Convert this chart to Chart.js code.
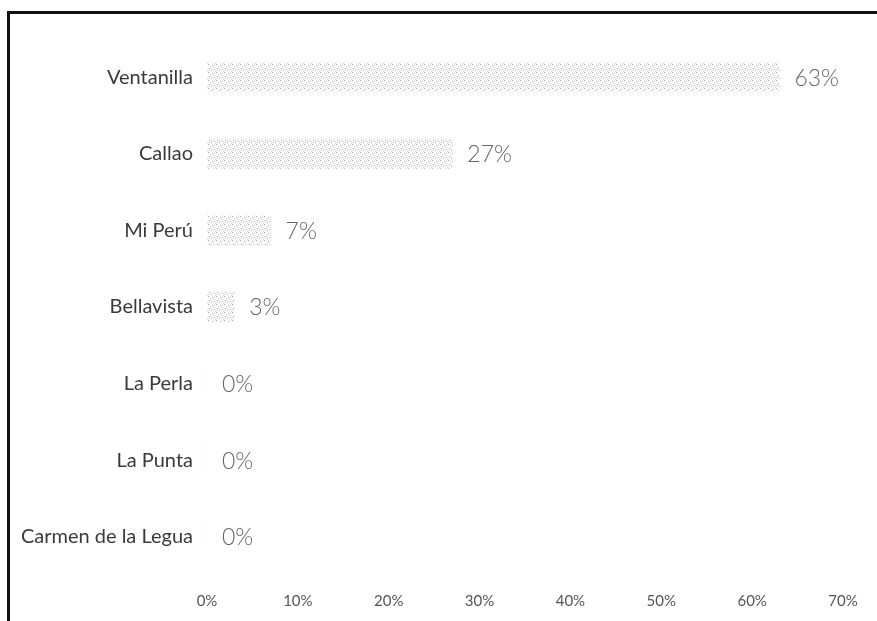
<!DOCTYPE html>
<html>
<head>
<meta charset="utf-8">
<script src="https://cdn.jsdelivr.net/npm/chart.js@4/dist/chart.umd.min.js"></script>
<style>
  html, body { margin: 0; padding: 0; background: #fff; }
  #wrap { position: relative; width: 877px; height: 621px; overflow: hidden; }
  #frameTop { position: absolute; left: 7px; top: 11px; width: 870px; height: 3px; background: #111; }
  #frameLeft { position: absolute; left: 7px; top: 11px; width: 3px; height: 610px; background: #111; }
  canvas { position: absolute; left: 0; top: 0; }
</style>
</head>
<body>
<div id="wrap">
  <canvas id="chart" width="877" height="621"></canvas>
  <div id="frameTop"></div>
  <div id="frameLeft"></div>
</div>
<script>
// Districts and their share of cases (percent)
const districts = ['Ventanilla', 'Callao', 'Mi Perú', 'Bellavista', 'La Perla', 'La Punta', 'Carmen de la Legua'];
const shares = [63, 27, 7, 3, 0, 0, 0];
const xTicks = [0, 10, 20, 30, 40, 50, 60, 70];

// Light stippled grey fill for the bars
function stipple() {
  const c = document.createElement('canvas');
  c.width = 8; c.height = 8;
  const g = c.getContext('2d');
  g.fillStyle = '#fbfbfb';
  g.fillRect(0, 0, 8, 8);
  g.fillStyle = '#a9a9a9';
  [[0,0],[4,1],[1,4],[6,5],[3,6]].forEach(([x, y]) => g.fillRect(x, y, 1, 1));
  g.fillStyle = '#d4d4d4';
  [[2,2],[6,0],[0,6],[5,3],[7,7],[3,4]].forEach(([x, y]) => g.fillRect(x, y, 1, 1));
  return g.createPattern(c, 'repeat');
}

// Writes the percentage just past the end of each bar
const valueLabels = {
  id: 'valueLabels',
  afterDatasetsDraw(chart) {
    const ctx = chart.ctx;
    const meta = chart.getDatasetMeta(0);
    ctx.save();
    ctx.font = '300 23px Lato';
    ctx.fillStyle = '#666';
    ctx.textAlign = 'left';
    ctx.textBaseline = 'middle';
    meta.data.forEach((bar, i) => {
      ctx.fillText(shares[i] + '%', bar.x + 15, bar.y + 1);
    });
    ctx.restore();
  }
};

new Chart(document.getElementById('chart'), {
  type: 'bar',
  data: {
    labels: districts,
    datasets: [{
      data: shares,
      backgroundColor: stipple(),
      borderWidth: 0,
      barThickness: 29
    }]
  },
  options: {
    indexAxis: 'y',
    responsive: false,
    animation: false,
    layout: { padding: { top: 39, right: 34, bottom: 0, left: 0 } },
    plugins: { legend: { display: false }, tooltip: { enabled: false } },
    scales: {
      x: {
        min: 0,
        max: 70,
        afterBuildTicks(scale) { scale.ticks = xTicks.map(v => ({ value: v })); },
        afterFit(scale) { scale.height = 46; },
        grid: { display: false, drawTicks: false },
        border: { display: false },
        ticks: {
          padding: 17,
          font: { family: 'Lato', size: 15 },
          color: '#555',
          callback: v => v + '%'
        }
      },
      y: {
        afterFit(scale) { scale.width = 207; },
        grid: { display: false, drawTicks: false },
        border: { display: false },
        ticks: {
          padding: 14,
          font: { family: 'Lato', size: 20 },
          color: '#3a3a3a'
        }
      }
    }
  },
  plugins: [valueLabels]
});
</script>
</body>
</html>
